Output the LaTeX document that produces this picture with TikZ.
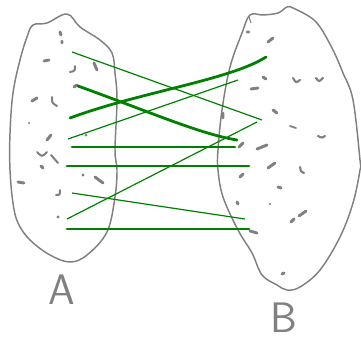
\documentclass[tikz,border=0pt]{standalone}
\usepackage{tikz}
\usetikzlibrary{calc}
\definecolor{pen}{RGB}{128,128,128}
\definecolor{link}{RGB}{0,128,0}

\begin{document}
\begin{tikzpicture}[x=0.75pt,y=-0.75pt,
  blob/.style={pen,line width=1.1pt,line join=round},
  fleck/.style={pen,line width=2.2pt,line cap=round},
  thinmap/.style={link,line width=0.9pt},
  thickmap/.style={link,line width=2.1pt,line cap=round},
  setname/.style={pen,inner sep=0pt,font=\sffamily\fontsize{32}{32}\selectfont}]
  \useasboundingbox (0,0) rectangle (361,343);
  % the two sets
  \draw[blob] plot[smooth cycle,tension=0.6] coordinates {(33,25) (47,23) (67,14) (80,27) (100,40) (112,53) (115,73) (117,100) (115,150) (117,170) (115,197) (107,232) (87,255) (70,262) (50,255) (30,240) (18,223) (13,203) (10,170) (10,133) (13,93) (20,60) (27,37)};
  \draw[blob] plot[smooth cycle,tension=0.6] coordinates {(250,15) (263,15) (278,13) (287,7) (293,8) (310,17) (320,27) (333,50) (343,73) (353,100) (360,160) (360,170) (353,203) (340,237) (320,270) (300,287) (287,290) (277,285) (262,275) (252,253) (238,230) (223,197) (218,170) (218,150) (222,110) (230,67) (242,33)};
  \draw[pen,line width=0.8pt] (249,17) -- (251,23);
  % flecks in A
  \draw[fleck] (60,32)--(61,35) (62,41)--(62,43) (44,61)--(49,60) (94,63)--(97,70)
    (74,87)--(77,85) (32,101)--(37,98) (47,140)--(51,135) (41,166)--(43,168)
    (18,182)--(24,183) (95,177)--(103,183);
  \draw[fleck,line width=1.5pt] (70,72) .. controls (75,71) .. (75,66)
    (52,97) .. controls (52,103) .. (57,106) (37,152) .. controls (42,157) .. (47,152)
    (51,155)--(58,163) (56,195) .. controls (60,195) .. (60,190);
  \fill[pen] (29,123) circle (1.2) (86,135) circle (1.5) (83,175) circle (1.7) (58,217) circle (1.6);
  % flecks in B
  \draw[fleck] (247,32)--(249,32) (268,42)--(273,38) (263,77)--(266,79) (251,89)--(258,88)
    (223,113)--(223,118) (273,110)--(277,113) (239,147)--(243,143) (257,149)--(267,145)
    (268,168)--(275,163) (240,177)--(243,174) (278,187)--(281,188) (237,202)--(238,204)
    (291,222)--(294,219) (299,216)--(306,211) (250,231)--(257,233) (282,274)--(284,273);
  \draw[fleck,line width=1.4pt] (290,126)--(296,128);
  \draw[fleck,line width=1.6pt] (293,78) .. controls (296,83) .. (300,80)
    (316,78) .. controls (319,82) .. (323,78) (318,136) .. controls (322,138) .. (325,136)
    (300,167) .. controls (301,172) .. (304,173);
  \fill[pen] (270,204) circle (1.1);
  % the maps
  \draw[thinmap] (72,52) -- (262,120);
  \draw[thickmap] (78,86) .. controls (150,112) and (200,134) .. (237,140);
  \draw[thickmap] (70,118) .. controls (140,92) and (230,80) .. (266,57);
  \draw[thinmap] (68,139) -- (238,80);
  \draw[thickmap] (72,147) -- (235,147);
  \draw[thickmap] (67,166) -- (249,166);
  \draw[thinmap] (67,219) -- (257,122);
  \draw[thinmap] (72,193) -- (245,219);
  \draw[thickmap] (67,229) -- (249,229);
  % labels
  \node[setname] (labA) at (62,290) {A};
  \node[setname] (labB) at (284,318) {B};
\end{tikzpicture}
\end{document}
